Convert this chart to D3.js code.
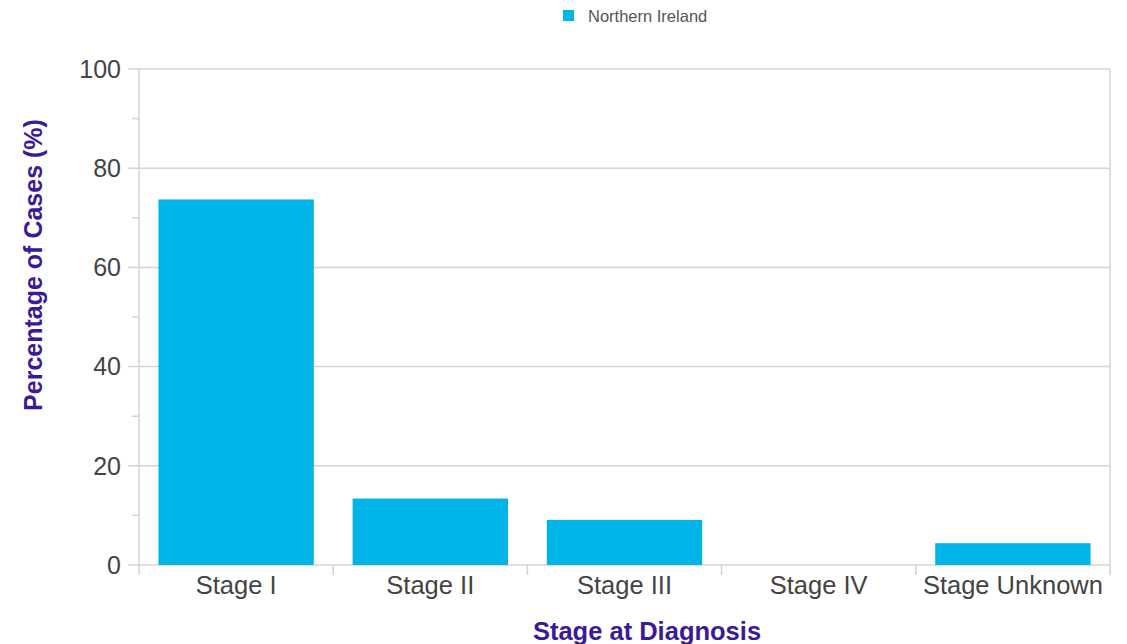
<!DOCTYPE html>
<html><head><meta charset="utf-8">
<script src="https://cdn.jsdelivr.net/npm/d3@7"></script>
<style>body{margin:0;background:#fff}svg{display:block}</style>
</head><body>
<svg id="c" width="1127" height="644"></svg>
<script>
const categories = ["Stage I","Stage II","Stage III","Stage IV","Stage Unknown"];
const values = [73.7, 13.4, 9.1, 0, 4.4];
const seriesName = "Northern Ireland";
const majorTicks = [0,20,40,60,80,100];
const minorTicks = [10,30,50,70,90];

const W=1127,H=644;
const m={left:139,right:1127-1110,top:69,bottom:644-565};
const svg=d3.select("#c");
const x=d3.scaleBand().domain(categories).range([m.left,W-m.right]).paddingInner(0.2).paddingOuter(0.1);
const xb=d3.scaleBand().domain(categories).range([m.left,W-m.right]);
const y=d3.scaleLinear().domain([0,100]).range([H-m.bottom,m.top]);
const grid="#d4d4d4", blue="#00b4e8", purple="#3b1a9a", txt="#444";
const ff="Liberation Sans, Arial, sans-serif";

// gridlines
svg.append("g").selectAll("line").data(majorTicks).join("line")
  .attr("x1",m.left-11).attr("x2",W-m.right).attr("y1",d=>y(d)).attr("y2",d=>y(d))
  .attr("stroke",grid).attr("stroke-width",1.5);
svg.append("g").selectAll("line").data(minorTicks).join("line")
  .attr("x1",m.left-7).attr("x2",m.left).attr("y1",d=>y(d)).attr("y2",d=>y(d))
  .attr("stroke",grid).attr("stroke-width",1.5);
// left and right borders
svg.append("line").attr("x1",m.left).attr("x2",m.left).attr("y1",y(100)).attr("y2",y(0)+10).attr("stroke",grid).attr("stroke-width",1.5);
svg.append("line").attr("x1",W-m.right).attr("x2",W-m.right).attr("y1",y(100)).attr("y2",y(0)+10).attr("stroke",grid).attr("stroke-width",1.5);
// category boundary ticks
svg.append("g").selectAll("line").data(categories.slice(1)).join("line")
  .attr("x1",d=>xb(d)).attr("x2",d=>xb(d)).attr("y1",y(0)).attr("y2",y(0)+10)
  .attr("stroke",grid).attr("stroke-width",1.5);

// bars
svg.append("g").selectAll("rect").data(values).join("rect")
  .attr("x",(d,i)=>x(categories[i])).attr("width",x.bandwidth())
  .attr("y",d=>y(d)).attr("height",d=>y(0)-y(d)).attr("fill",blue);

// y tick labels
svg.append("g").selectAll("text").data(majorTicks).join("text")
  .attr("x",121).attr("y",d=>y(d)).attr("dy","0.35em").attr("text-anchor","end")
  .attr("font-family",ff).attr("font-size",25).attr("fill",txt)
  .text(d=>d);
// x tick labels
svg.append("g").selectAll("text").data(categories).join("text")
  .attr("x",d=>xb(d)+xb.bandwidth()/2).attr("y",594).attr("text-anchor","middle")
  .attr("font-family",ff).attr("font-size",25.5).attr("fill",txt)
  .text(d=>d);

// axis titles
svg.append("text").attr("x",647).attr("y",640).attr("text-anchor","middle")
  .attr("font-family",ff).attr("font-weight","bold").attr("font-size",25.5)
  .attr("fill",purple).text("Stage at Diagnosis");
svg.append("text").attr("transform","translate(42,265) rotate(-90)").attr("text-anchor","middle")
  .attr("font-family",ff).attr("font-weight","bold").attr("font-size",25)
  .attr("fill",purple).text("Percentage of Cases (%)");

// legend
const lg=svg.append("g");
lg.append("rect").attr("x",563).attr("y",10).attr("width",11).attr("height",11).attr("fill",blue);
lg.append("text").attr("x",588).attr("y",16).attr("dy","0.35em")
  .attr("font-family",ff).attr("font-size",16.5).attr("fill","#555")
  .text(seriesName);
</script>
</body></html>
